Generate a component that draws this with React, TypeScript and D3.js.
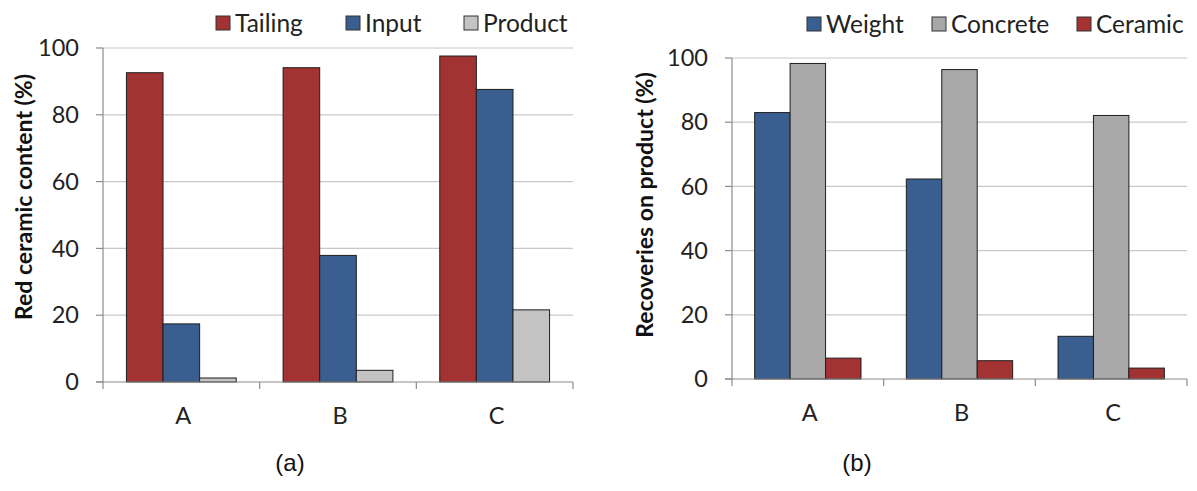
import React from "react";
import * as d3 from "d3";

const categories = ["A", "B", "C"];

// panel (a): red ceramic content
const seriesA = ["Tailing", "Input", "Product"];
const tailing = [92.6, 94.1, 97.6];
const input = [17.4, 37.9, 87.6];
const product = [1.2, 3.5, 21.6];

// panel (b): recoveries on product
const seriesB = ["Weight", "Concrete", "Ceramic"];
const weight = [83.0, 62.3, 13.3];
const concrete = [98.3, 96.4, 82.1];
const ceramic = [6.5, 5.7, 3.4];

const yTicks = [0, 20, 40, 60, 80, 100];

const RED = "#a33232";
const BLUE = "#3a5e8f";
const LIGHTGRAY = "#c3c3c3";
const GRAY = "#a8a8a8";
const FONT = "Lato, 'Open Sans', sans-serif";

type PanelProps = {
  x0: number;
  x1: number;
  yTop: number;
  yBottom: number;
  keys: string[];
  values: number[][];
  colors: string[];
  title: string;
  titleX: number;
  titleY: number;
  legendX: number[];
  legendY: number;
  caption: string;
  captionX: number;
};

function Panel(p: PanelProps) {
  const x = d3.scaleBand<string>().domain(categories).range([p.x0, p.x1]);
  const y = d3.scaleLinear().domain([0, 100]).range([p.yBottom, p.yTop]);
  const bw = x.bandwidth() / 4.28;
  const inner = d3.scaleBand<string>().domain(p.keys).range([0, bw * 3]);
  const boundaries = [...categories.map((c) => x(c) as number), p.x1];

  return (
    <g>
      {yTicks.map((t) => (
        <g key={t}>
          {t > 0 && (
            <line x1={p.x0} x2={p.x1} y1={y(t)} y2={y(t)} stroke="#c8c8c8" strokeWidth={1.2} />
          )}
          <line x1={p.x0 - 7} x2={p.x0} y1={y(t)} y2={y(t)} stroke="#8c8c8c" strokeWidth={1.2} />
          <text x={p.x0 - 24} y={y(t)} dy="0.35em" textAnchor="end" fontSize={23.5} fill="#222" fontFamily={FONT}>
            {t}
          </text>
        </g>
      ))}
      <line x1={p.x0} x2={p.x0} y1={p.yTop} y2={p.yBottom} stroke="#8c8c8c" strokeWidth={1.2} />
      {categories.map((c, ci) => {
        const left = (x(c) as number) + (x.bandwidth() - bw * 3) / 2;
        return (
          <g key={c}>
            {p.keys.map((k, ki) => (
              <rect
                key={k}
                x={left + (inner(k) as number)}
                y={y(p.values[ki][ci])}
                width={inner.bandwidth()}
                height={y(0) - y(p.values[ki][ci])}
                fill={p.colors[ki]}
                stroke="#1e1e1e"
                strokeWidth={1}
              />
            ))}
            <text
              x={(x(c) as number) + x.bandwidth() / 2 + 2}
              y={p.yBottom + 42}
              textAnchor="middle"
              fontSize={23.5}
              fill="#222"
              fontFamily={FONT}
            >
              {c}
            </text>
          </g>
        );
      })}
      <line x1={p.x0 - 7} x2={p.x1} y1={p.yBottom} y2={p.yBottom} stroke="#8c8c8c" strokeWidth={1.2} />
      {boundaries.map((b, i) => (
        <line key={i} x1={b} x2={b} y1={p.yBottom} y2={p.yBottom + 7} stroke="#8c8c8c" strokeWidth={1.2} />
      ))}
      <text
        transform={`translate(${p.titleX},${p.titleY}) rotate(-90)`}
        textAnchor="middle"
        dy="0.35em"
        fontSize={23}
        fontWeight={700}
        fill="#111"
        fontFamily={FONT}
      >
        {p.title}
      </text>
      {p.keys.map((k, i) => (
        <g key={k} transform={`translate(${p.legendX[i]},${p.legendY})`}>
          <rect x={0} y={-7} width={14} height={14} fill={p.colors[i]} stroke="#333" strokeWidth={1} />
          <text x={19} y={0} dy="0.35em" fontSize={24.5} fill="#222" fontFamily={FONT}>
            {k}
          </text>
        </g>
      ))}
      <text
        x={p.captionX}
        y={463}
        dy="0.35em"
        textAnchor="middle"
        fontSize={24}
        fill="#111"
        fontFamily="'Liberation Sans', Arial, sans-serif"
      >
        {p.caption}
      </text>
    </g>
  );
}

export default function App() {
  return (
    <div style={{ position: "absolute", left: 0, top: 0 }}>
      <svg width={1197} height={491} style={{ display: "block", background: "#fff" }}>
        <Panel
          x0={103}
          x1={573}
          yTop={48}
          yBottom={382}
          keys={seriesA}
          values={[tailing, input, product]}
          colors={[RED, BLUE, LIGHTGRAY]}
          title="Red ceramic content (%)"
          titleX={24}
          titleY={197}
          legendX={[216, 346, 464]}
          legendY={23}
          caption="(a)"
          captionX={290}
        />
        <Panel
          x0={732}
          x1={1187}
          yTop={58}
          yBottom={379}
          keys={seriesB}
          values={[weight, concrete, ceramic]}
          colors={[BLUE, GRAY, RED]}
          title="Recoveries on product (%)"
          titleX={645}
          titleY={205}
          legendX={[807, 932, 1077]}
          legendY={24}
          caption="(b)"
          captionX={857}
        />
      </svg>
    </div>
  );
}
